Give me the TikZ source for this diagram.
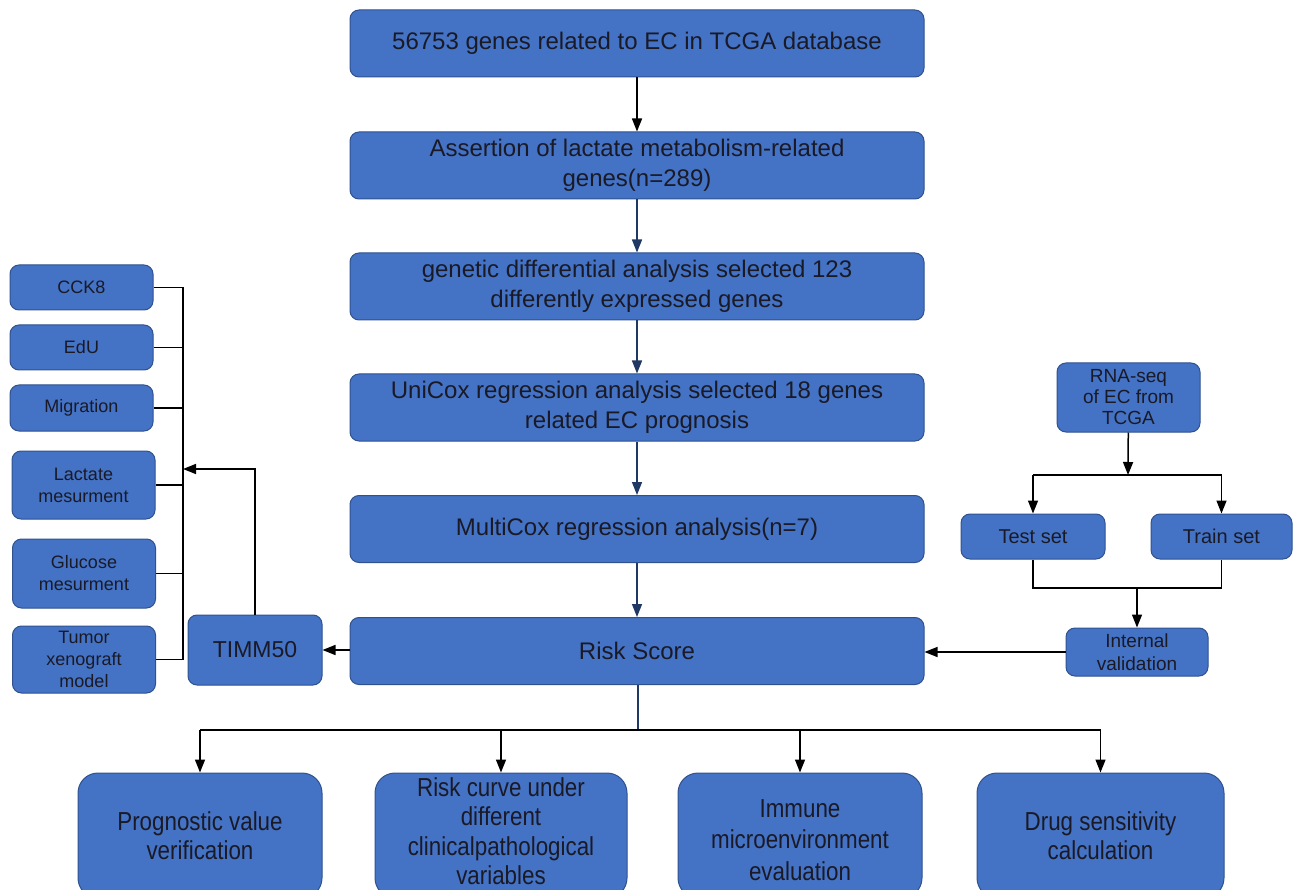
\documentclass[tikz,border=0pt]{standalone}
\usepackage{fontspec}
\setmainfont{Liberation Sans}
\newfontfamily\narrowfont{Liberation Sans}[FakeStretch=0.86]
\usetikzlibrary{arrows.meta}
\definecolor{boxblue}{HTML}{4472C4}
\definecolor{boxedge}{HTML}{2F528F}
\definecolor{boxtext}{HTML}{1A1A26}
\definecolor{navy}{HTML}{1F3864}

\begin{document}
\begin{tikzpicture}[x=1pt, y=-1pt,
box/.style={rectangle, rounded corners=9pt, fill=boxblue, draw=boxedge, line width=1pt, text=boxtext, align=center, inner sep=0pt},
stepmain/.style={box, minimum width=574pt, minimum height=67pt, font=\fontsize{24}{30}\selectfont},
side/.style={box, minimum width=143pt, font=\fontsize{18}{22}\selectfont},
result/.style={box, rounded corners=20pt, minimum width=244pt, minimum height=125pt, font=\narrowfont\fontsize{26}{29}\selectfont},
link/.style={line width=1.5pt, -{Triangle[length=13pt, width=10pt]}}]
\tikzstyle{wire}=[line width=1.5pt]
\tikzstyle{label}=[text=boxtext, align=center, inner sep=0pt]
\useasboundingbox (0,0) rectangle (1293,890);

%main steps
\node[stepmain] (genes) at (637,43.5) {56753 genes related to EC in TCGA database};
\node[stepmain] (lactate) at (637,165.5) {Assertion of lactate metabolism-related\\genes(n=289)};
\node[stepmain] (diff) at (637,286.5) {genetic differential analysis selected 123\\differently expressed genes};
\node[stepmain] (unicox) at (637,407.5) {UniCox regression analysis selected 18 genes\\related EC prognosis};
\node[stepmain] (multicox) at (637,529) {MultiCox regression analysis(n=7)};
\node[stepmain] (risk) at (637,651) {Risk Score};

\draw[link] (genes) -- (lactate);
\draw[link, navy] (lactate) -- (diff);
\draw[link, navy] (diff) -- (unicox);
\draw[link, navy] (unicox) -- (multicox);
\draw[link, navy] (multicox) -- (risk);

%experiments
\node[side, minimum height=45pt] (cck) at (81.5,287.5) {CCK8};
\node[side, minimum height=45pt] (edu) at (81.5,347.5) {EdU};
\node[side, minimum height=46pt] (migration) at (81.5,408) {Migration};
\node[side, minimum height=68pt] (lacmes) at (83.5,485) {Lactate\\mesurment};
\node[side, minimum height=69pt] (glumes) at (84,573.5) {Glucose\\mesurment};
\node[side, minimum height=67pt] (tumor) at (84,659.5) {Tumor\\xenograft\\model};
\node[box, minimum width=134pt, minimum height=70pt, font=\fontsize{23}{28}\selectfont] (timm) at (255,650) {TIMM50};

\coordinate (bus) at (183,469);
\foreach \b in {cck,edu,migration,lacmes,glumes,tumor}
  \draw[wire] (\b.east) -- (\b.east -| bus);
\draw[wire] (cck.east -| bus) -- (tumor.east -| bus);
\draw[link] (timm.north) |- (bus);
\draw[link] (risk.west |- timm) -- (timm.east);

%validation
\node[side, minimum height=69pt, font=\fontsize{19}{21}\selectfont] (rnaseq) at (1128.5,397.5) {RNA-seq\\of EC from\\TCGA};
\node[side, minimum width=144pt, minimum height=45pt, font=\fontsize{20}{22}\selectfont] (test) at (1033,536.5) {Test set};
\node[side, minimum width=141pt, minimum height=45pt, font=\fontsize{20}{22}\selectfont] (train) at (1221.5,536.5) {Train set};
\node[side, minimum width=142pt, minimum height=48pt, font=\fontsize{19}{23}\selectfont] (internal) at (1137,652) {Internal\\validation};

\coordinate (split) at (1128,475);
\coordinate (merge) at (1137,588);
\draw[link] (rnaseq) -- (split);
\draw[wire] (test.north |- split) -- (train.north |- split);
\draw[link] (split -| test) -- (test.north);
\draw[link] (split -| train) -- (train.north);
\draw[wire] (test.south) |- (merge) -| (train.south);
\draw[link] (merge) -- (internal.north);
\draw[link] (internal.west) -- (risk.east |- internal.west);

%outcomes
\node[result] (prognostic) at (200,835.5) {Prognostic value\\verification};
\node[result, minimum width=252pt] (curve) at (501,835.5) {};
\node[label, font=\narrowfont\fontsize{26}{29.5}\selectfont] (curvetext) at (501,831) {Risk curve under\\different\\clinicalpathological\\variables};
\node[result] (immune) at (800,835.5) {};
\node[label, font=\narrowfont\fontsize{26}{31.5}\selectfont] (immunetext) at (800,840) {Immune\\microenvironment\\evaluation};
\node[result, minimum width=247pt] (drug) at (1100.5,835.5) {Drug sensitivity\\calculation};

\coordinate (fork) at (638,730);
\draw[wire, navy] (risk.south -| fork) -- (fork);
\draw[wire] (fork -| prognostic) -- (fork -| drug);
\foreach \o in {prognostic,curve,immune,drug}
  \draw[link] (fork -| \o) -- (\o.north);
\end{tikzpicture}
\end{document}
